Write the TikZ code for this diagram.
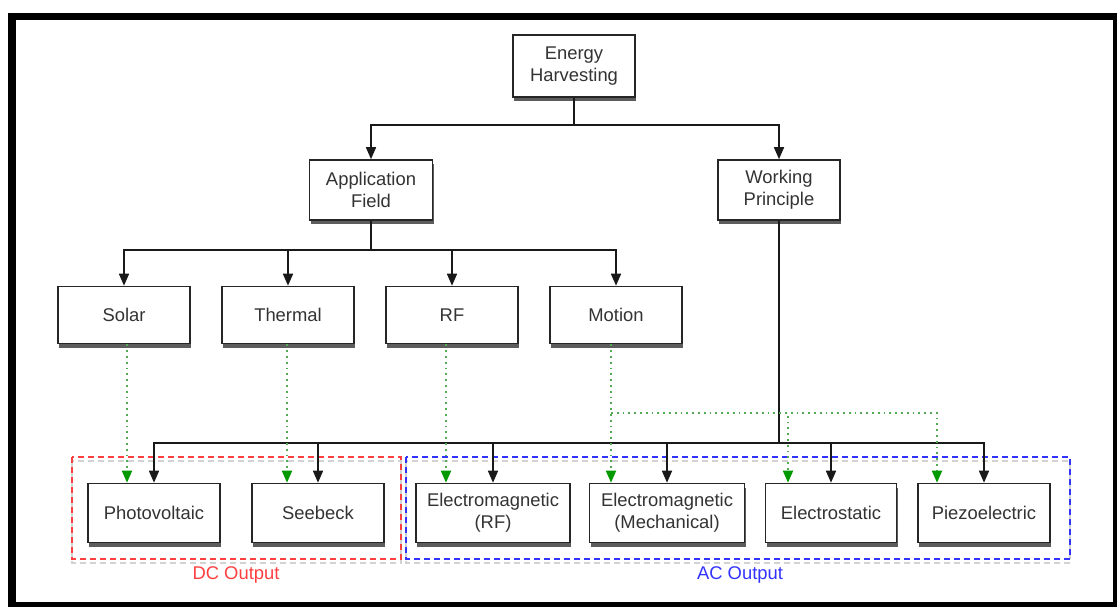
\documentclass[tikz,border=0pt]{standalone}
\usepackage{fontspec}
\setmainfont{Liberation Sans}
\usetikzlibrary{positioning, arrows.meta, shadows}

\begin{document}
\begin{tikzpicture}[
    x=0.5pt, y=-0.5pt,
    box/.style={rectangle, draw=black!85, line width=0.8pt, fill=white,
      align=center, minimum width=66pt, minimum height=29pt, inner sep=2pt,
      text=black!80, font=\fontsize{9.2}{11}\selectfont,
      drop shadow={shadow xshift=0.5pt, shadow yshift=-2.2pt,
      opacity=0.75, fill=black!85}},
    wire/.style={draw=black!90, line width=0.8pt},
    link/.style={wire, -{Triangle[length=6pt, width=5pt]}},
    hintwire/.style={draw=green!35!gray, line width=0.9pt,
      dash pattern=on 0.9pt off 2pt},
    hint/.style={hintwire,
      -{Triangle[length=6pt, width=5pt, color=green!60!black]}},
    group/.style={line width=0.7pt, dash pattern=on 3pt off 2pt},
    grouptag/.style={font=\fontsize{9.2}{11}\selectfont}
  ]
    \useasboundingbox[fill=white] (0,0) rectangle (1117,606);

    % Frame
    \draw[line width=3.75pt] (12,16.5) rectangle (1117,606);

    % Output groups
    \draw[gray!35, group] (72,461) rectangle (401,563);
    \draw[red!75, group] (72,457) rectangle (401,559);
    \node[grouptag, text=red!75] (dc) at (236,575) {DC Output};
    \draw[gray!35, group] (406,461) rectangle (1070,563);
    \draw[blue!80, group] (406,457) rectangle (1070,559);
    \node[grouptag, text=blue!80] (ac) at (740,575) {AC Output};

    % Top levels
    \node[box, minimum width=61pt, minimum height=31pt] (eh) at (574,66)
    {Energy\\Harvesting};
    \node[box, minimum width=61.5pt, minimum height=30pt] (af) at (371,190)
    {Application\\Field};
    \node[box, minimum width=61pt, minimum height=30pt] (wp) at (779,190)
    {Working\\Principle};

    % Application row
    \node[box, minimum height=28.5pt] (solar) at (124,315) {Solar};
    \node[box, minimum height=28.5pt] (thermal) at (288,315) {Thermal};
    \node[box, minimum height=28.5pt] (rf) at (452,315) {RF};
    \node[box, minimum height=28.5pt] (motion) at (616,315) {Motion};

    % Principle row
    \node[box, minimum height=29.5pt] (pv) at (154,513) {Photovoltaic};
    \node[box, minimum height=29.5pt] (sb) at (318,513) {Seebeck};
    \node[box, minimum height=29.5pt, minimum width=77pt] (emrf) at (493,513)
    {Electromagnetic\\(RF)};
    \node[box, minimum height=29.5pt, minimum width=77.5pt] (emm) at (667,513)
    {Electromagnetic\\(Mechanical)};
    \node[box, minimum height=29.5pt, minimum width=65.5pt] (es) at (831,513)
    {Electrostatic};
    \node[box, minimum height=29.5pt] (pz) at (984,513) {Piezoelectric};

    % Tree links
    \coordinate (rootbus) at (574,125);
    \draw[wire] (eh.south) -- (rootbus);
    \draw[link] (rootbus) -| (af.north);
    \draw[link] (rootbus) -| (wp.north);

    \coordinate (fieldbus) at (371,250);
    \draw[wire] (af.south) -- (fieldbus);
    \foreach \n in {solar, thermal, rf, motion}
      \draw[link] (fieldbus) -| (\n.north);

    \coordinate (principlebus) at (779,443);
    \draw[wire] (wp.south) -- (principlebus);
    \foreach \n in {pv, sb, emrf, emm, es, pz}
      \draw[link] (principlebus) -| (\n.north);

    % Field to principle hints
    \draw[hint] ([xshift=1.5pt]solar.south) -- ([xshift=1.5pt]solar.south |- pv.north);
    \draw[hint] ([xshift=-0.5pt]thermal.south) -- ([xshift=-0.5pt]thermal.south |- sb.north);
    \draw[hint] ([xshift=-3pt]rf.south) -- ([xshift=-3pt]rf.south |- emrf.north);
    \draw[hint] ([xshift=-2.5pt]motion.south) -- ([xshift=-2.5pt]motion.south |- emm.north);
    \coordinate (motionbus) at (611,413);
    \draw[hint] (motionbus) -| ([xshift=-21.5pt]es.north);
    \draw[hint] (motionbus) -| ([xshift=-23.5pt]pz.north);

  \end{tikzpicture}
\end{document}
